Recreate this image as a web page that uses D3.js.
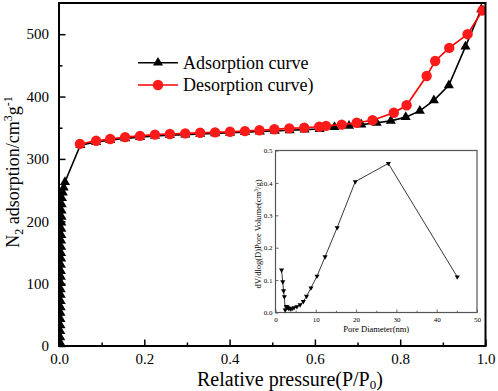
<!DOCTYPE html>
<html lang="en">
<head>
<meta charset="UTF-8" />
<title>N2 adsorption-desorption isotherm</title>
<script src="https://d3js.org/d3.v7.min.js"></script>
<style>
  body { margin: 0; background: #fff; }
  svg { display: block; font-family: "Liberation Serif", "Times New Roman", serif; }
  .frame { fill: none; stroke: #000; stroke-width: 2; }
  .axis line { stroke: #000; stroke-width: 1.5; }
  .inset .axis line { stroke: #444; stroke-width: 0.8; }
</style>
</head>
<body>
<script>
// ---- main isotherm: [P/P0, adsorbed volume cm3/g] ----
const adsorption = [
  [0.003, 5], [0.003, 14], [0.003, 24], [0.0035, 33], [0.0035, 43], [0.0035, 53],
  [0.004, 62], [0.004, 72], [0.004, 82], [0.004, 91], [0.0045, 101], [0.0045, 111],
  [0.0045, 120], [0.0045, 130], [0.005, 140], [0.005, 149], [0.005, 159], [0.005, 169],
  [0.0055, 178], [0.0055, 188], [0.0055, 198], [0.006, 207], [0.006, 217], [0.0065, 227],
  [0.007, 237], [0.009, 246], [0.011, 254], [0.014, 263],
  [0.05, 322], [0.087, 327], [0.120, 330], [0.155, 333], [0.190, 335], [0.225, 337],
  [0.260, 338], [0.296, 339], [0.331, 340], [0.366, 341], [0.401, 342], [0.436, 343],
  [0.471, 344], [0.506, 345], [0.541, 346], [0.576, 347], [0.611, 348], [0.646, 351],
  [0.680, 353], [0.709, 355], [0.745, 358], [0.778, 361], [0.813, 367], [0.846, 377],
  [0.879, 394], [0.914, 418], [0.953, 480], [0.990, 540]
];
const desorption = [
  [0.049, 324], [0.087, 329], [0.120, 332], [0.155, 335], [0.190, 337], [0.225, 339],
  [0.260, 340], [0.296, 341], [0.331, 342], [0.366, 342.5], [0.401, 343.5], [0.436, 344.5],
  [0.470, 346], [0.505, 347.5], [0.540, 349], [0.575, 350], [0.610, 351.5], [0.626, 353],
  [0.663, 355], [0.698, 358], [0.735, 362], [0.785, 374], [0.815, 386], [0.862, 433],
  [0.882, 457], [0.915, 478], [0.958, 500], [0.993, 538]
];
const xTicks = [0, 0.2, 0.4, 0.6, 0.8, 1.0];
const xMinor = [0.1, 0.3, 0.5, 0.7, 0.9];
const yTicks = [0, 100, 200, 300, 400, 500];
const yMinor = [50, 150, 250, 350, 450];

// ---- inset: pore size distribution ----
const poreDiameter = [1.5, 1.8, 2.0, 2.2, 2.4, 2.7, 3.0, 3.3, 3.7, 4.1, 4.6, 5.3, 6.1, 6.9, 7.7, 8.8, 10.3, 12.3, 15.3, 19.8, 28.0, 45.1];
const poreVolume   = [0.131, 0.095, 0.067, 0.049, 0.008, 0.019, 0.016, 0.013, 0.011, 0.012, 0.015, 0.018, 0.024, 0.034, 0.050, 0.076, 0.112, 0.172, 0.262, 0.404, 0.460, 0.110];
const insetXTicks = [0, 10, 20, 30, 40, 50];
const insetXMinor = [5, 15, 25, 35, 45];
const insetYTicks = [0, 0.1, 0.2, 0.3, 0.4, 0.5];

const width = 498, height = 391;
const margin = { top: 3, right: 12.5, bottom: 45, left: 59 };

const svg = d3.select("body").append("svg")
  .attr("width", width).attr("height", height);

const x = d3.scaleLinear().domain([0, 1]).range([margin.left, width - margin.right]);
const y = d3.scaleLinear().domain([0, 550]).range([height - margin.bottom, margin.top]);

// clip so markers sitting on the y axis show only their inner half
svg.append("clipPath").attr("id", "plotclip")
  .append("rect")
  .attr("x", x(0)).attr("y", y(550))
  .attr("width", x(1) - x(0)).attr("height", y(0) - y(550));

function styleAxis(g, size) {
  g.attr("font-family", null).attr("font-size", size);
  g.select(".domain").remove();
  g.selectAll("text").attr("fill", "#000");
}

// minor ticks
svg.append("g").attr("class", "axis")
  .attr("transform", `translate(0,${y(0)})`)
  .call(d3.axisBottom(x).tickValues(xMinor).tickSizeInner(-3.5).tickFormat(""))
  .call(g => styleAxis(g, 15));
svg.append("g").attr("class", "axis")
  .attr("transform", `translate(${x(0)},0)`)
  .call(d3.axisLeft(y).tickValues(yMinor).tickSizeInner(-3.5).tickFormat(""))
  .call(g => styleAxis(g, 15));

// major ticks
svg.append("g").attr("class", "axis")
  .attr("transform", `translate(0,${y(0)})`)
  .call(d3.axisBottom(x).tickValues(xTicks).tickSizeInner(-6.5).tickPadding(7.5).tickFormat(d3.format(".1f")))
  .call(g => styleAxis(g, 15));
svg.append("g").attr("class", "axis")
  .attr("transform", `translate(${x(0)},0)`)
  .call(d3.axisLeft(y).tickValues(yTicks).tickSizeInner(-6.5).tickPadding(10))
  .call(g => styleAxis(g, 15));

// series
const line = d3.line().x(d => x(d[0])).y(d => y(d[1]));
const plot = svg.append("g").attr("clip-path", "url(#plotclip)");

plot.append("path").datum(adsorption)
  .attr("fill", "none").attr("stroke", "#000").attr("stroke-width", 1.6)
  .attr("d", line);
plot.selectAll(".ads").data(adsorption).join("path")
  .attr("class", "ads")
  .attr("transform", d => `translate(${x(d[0])},${y(d[1])})`)
  .attr("d", d3.symbol(d3.symbolTriangle, 44))
  .attr("fill", "#000");

plot.append("path").datum(desorption)
  .attr("fill", "none").attr("stroke", "#ff0000").attr("stroke-width", 1.6)
  .attr("d", line);
plot.selectAll(".des").data(desorption).join("circle")
  .attr("class", "des")
  .attr("cx", d => x(d[0])).attr("cy", d => y(d[1]))
  .attr("r", 5.2)
  .attr("fill", "#ff1a1a");

// frame on top
svg.append("rect").attr("class", "frame")
  .attr("x", x(0)).attr("y", y(550))
  .attr("width", x(1) - x(0)).attr("height", y(0) - y(550));

// legend
const legend = svg.append("g");
[
  { label: "Adsorption curve", color: "#000", shape: "tri", ly: 62.7 },
  { label: "Desorption curve)", color: "#ff0000", shape: "circ", ly: 85 }
].forEach(item => {
  legend.append("line")
    .attr("x1", 138).attr("x2", 178).attr("y1", item.ly).attr("y2", item.ly)
    .attr("stroke", item.color).attr("stroke-width", 1.6);
  if (item.shape === "tri") {
    legend.append("path")
      .attr("transform", `translate(158,${item.ly})`)
      .attr("d", d3.symbol(d3.symbolTriangle, 44))
      .attr("fill", "#000");
  } else {
    legend.append("circle").attr("cx", 158).attr("cy", item.ly).attr("r", 5.2)
      .attr("fill", "#ff1a1a");
  }
  legend.append("text")
    .attr("x", 183).attr("y", item.ly + 6)
    .attr("font-size", 18)
    .text(item.label);
});

// axis titles
const xTitle = svg.append("text")
  .attr("x", 197).attr("y", 385.5)
  .attr("font-size", 20);
xTitle.append("tspan").text("Relative pressure(P/P");
xTitle.append("tspan").attr("font-size", 13).attr("dy", 3.5).text("0");
xTitle.append("tspan").attr("dy", -3.5).text(")");

const yTitle = svg.append("text")
  .attr("transform", "translate(19,172) rotate(-90)")
  .attr("text-anchor", "middle")
  .attr("font-size", 18);
yTitle.append("tspan").text("N");
yTitle.append("tspan").attr("font-size", 12).attr("dy", 4).text("2");
yTitle.append("tspan").attr("dy", -4).text(" adsorption/cm");
yTitle.append("tspan").attr("font-size", 12).attr("dy", -7).text("3");
yTitle.append("tspan").attr("dy", 7).text("g");
yTitle.append("tspan").attr("font-size", 12).attr("dy", -7).text("-1");

// ---- inset ----
const inset = svg.append("g").attr("class", "inset");
const ix = d3.scaleLinear().domain([0, 50]).range([275.5, 477]);
const iy = d3.scaleLinear().domain([0, 0.5]).range([312.5, 150.5]);

inset.append("rect")
  .attr("x", ix(0)).attr("y", iy(0.5))
  .attr("width", ix(50) - ix(0)).attr("height", iy(0) - iy(0.5))
  .attr("fill", "#fff");

inset.append("g").attr("class", "axis")
  .attr("transform", `translate(0,${iy(0)})`)
  .call(d3.axisBottom(ix).tickValues(insetXMinor).tickSizeInner(-1.8).tickFormat(""))
  .call(g => styleAxis(g, 7));
inset.append("g").attr("class", "axis")
  .attr("transform", `translate(0,${iy(0)})`)
  .call(d3.axisBottom(ix).tickValues(insetXTicks).tickSizeInner(-3).tickPadding(5))
  .call(g => styleAxis(g, 7));
inset.append("g").attr("class", "axis")
  .attr("transform", `translate(${ix(0)},0)`)
  .call(d3.axisLeft(iy).tickValues(insetYTicks).tickSizeInner(-3).tickPadding(3).tickFormat(d3.format(".1f")))
  .call(g => styleAxis(g, 7));

inset.append("rect")
  .attr("x", ix(0)).attr("y", iy(0.5))
  .attr("width", ix(50) - ix(0)).attr("height", iy(0) - iy(0.5))
  .attr("fill", "none").attr("stroke", "#555").attr("stroke-width", 1.2);

const poreData = poreDiameter.map((d, i) => [d, poreVolume[i]]);
inset.append("path").datum(poreData)
  .attr("fill", "none").attr("stroke", "#222").attr("stroke-width", 0.9)
  .attr("d", d3.line().x(d => ix(d[0])).y(d => iy(d[1])));
inset.selectAll(".pore").data(poreData).join("path")
  .attr("class", "pore")
  .attr("transform", d => `translate(${ix(d[0])},${iy(d[1])}) rotate(180)`)
  .attr("d", d3.symbol(d3.symbolTriangle, 11))
  .attr("fill", "#000");

inset.append("text")
  .attr("x", (ix(0) + ix(50)) / 2).attr("y", 332)
  .attr("text-anchor", "middle").attr("font-size", 8.5)
  .text("Pore Diameter(nm)");

const iyTitle = inset.append("text")
  .attr("transform", "translate(261,234) rotate(-90)")
  .attr("text-anchor", "middle").attr("font-size", 8.5);
iyTitle.append("tspan").text("dV/dlog(D)Pore Volume(cm");
iyTitle.append("tspan").attr("font-size", 6).attr("dy", -3).text("3");
iyTitle.append("tspan").attr("dy", 3).text("/g)");
</script>
</body>
</html>
